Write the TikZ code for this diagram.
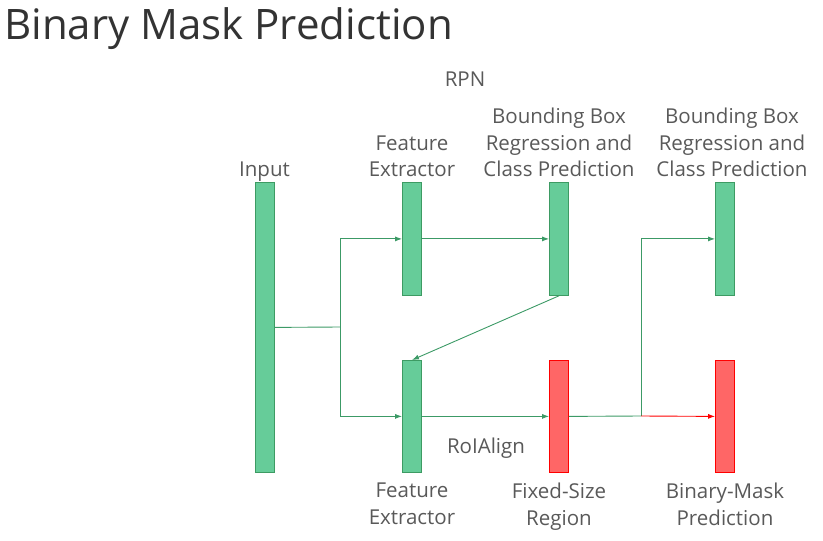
\documentclass[tikz,border=0pt]{standalone}
\usepackage{fontspec}
\setmainfont{Open Sans}
\usepackage{tikz}
\usetikzlibrary{arrows.meta,positioning}
\definecolor{ink}{HTML}{333333}
\definecolor{muted}{HTML}{595959}
\definecolor{barfill}{HTML}{66CC99}
\definecolor{bardraw}{HTML}{3D9B63}
\definecolor{maskfill}{HTML}{FF6666}
\definecolor{maskdraw}{HTML}{FF0000}
\definecolor{wire}{HTML}{3C9A66}
\tikzset{
  figbase/.style={
    x=1pt, y=-1pt,
    font=\fontsize{20.5}{26.5}\selectfont,
    color=muted,
    line cap=butt,
    line join=miter,
  },
  bar/.style={
    rectangle, anchor=north,
    minimum width=19pt, inner sep=0pt,
    line width=0.8pt,
  },
  bargreen/.style={bar, fill=barfill, draw=bardraw},
  barred/.style={bar, fill=maskfill, draw=maskdraw},
  lab/.style={align=center, text=muted, inner sep=0pt},
  head/.style={font=\fontsize{42}{48}\selectfont, text=ink, inner sep=0pt},
  link/.style={line width=0.9pt, draw=wire},
  arr/.style={link, -{Latex[length=7pt,width=5pt]}},
  arrred/.style={line width=0.9pt, draw=maskdraw, -{Latex[length=7pt,width=5pt]}},
}
\begin{document}
\begin{tikzpicture}[figbase]
  \useasboundingbox (0,0) rectangle (823,541);

  \node[head, anchor=base west] (title) at (4,39) {Binary Mask Prediction};

  % bars
  \node[bargreen, minimum height=290pt] (input) at (264.5,182) {};
  \node[bargreen, minimum height=113pt] (fetop) at (412,182) {};
  \node[bargreen, minimum height=113pt] (bbrpn) at (559,182) {};
  \node[bargreen, minimum height=113pt] (bbcls) at (725,182) {};
  \node[bargreen, minimum height=112pt] (febot) at (412,360) {};
  \node[barred, minimum height=112pt] (fixreg) at (559,360) {};
  \node[barred, minimum height=112pt] (maskpred) at (725,360) {};

  % labels
  \node[lab, above=0pt of input] (inputlab) {Input};
  \node[lab, above=5pt of fetop] (fetoplab) {Feature\\Extractor};
  \node[lab, above=5pt of bbrpn] (bbrpnlab) {Bounding Box\\Regression and\\Class Prediction};
  \node[lab, above=5pt of bbcls, xshift=7pt] (bbclslab) {Bounding Box\\Regression and\\Class Prediction};
  \node[lab] (rpnlab) at (465,79) {RPN};
  \node[lab] (roilab) at (486,448) {RoIAlign};
  \node[lab, below=10pt of febot] (febotlab) {Feature\\Extractor};
  \node[lab, below=10pt of fixreg] (fixreglab) {Fixed-Size\\Region};
  \node[lab, below=10pt of maskpred] (masklab) {Binary-Mask\\Prediction};

  % connectors
  \coordinate (split) at (340,327);
  \coordinate (merge) at (641,416);
  \draw[link] (input.east) -- (split);
  \draw[arr] (split) |- (fetop.west);
  \draw[arr] (split) |- (febot.west);
  \draw[arr] (fetop) -- (bbrpn);
  \draw[arr] (bbrpn.south) -- (febot.north);
  \draw[arr] (febot) -- (fixreg);
  \draw[link] (fixreg.east) -- (merge);
  \draw[arr] (merge) |- (bbcls.west);
  \draw[arrred] (merge) -- (maskpred.west);
\end{tikzpicture}
\end{document}
